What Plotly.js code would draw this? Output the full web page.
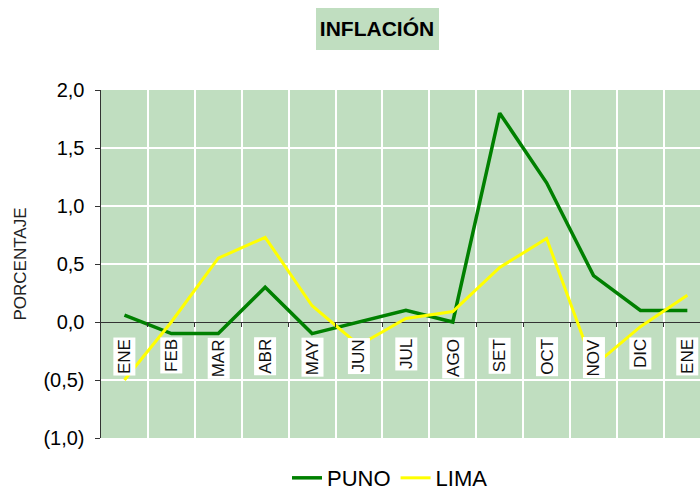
<!DOCTYPE html>
<html><head><meta charset="utf-8">
<script src="https://cdn.plot.ly/plotly-3.0.1.min.js"></script>
<style>body{margin:0;padding:0;background:#fff}#chart{width:700px;height:495px}</style>
</head><body><div id="chart"></div>
<script>
const months = ['ENE','FEB','MAR','ABR','MAY','JUN','JUL','AGO','SET','OCT','NOV','DIC','ENE'];
const puno = [0.06,-0.1,-0.1,0.3,-0.1,0.0,0.1,0.0,1.8,1.2,0.4,0.1,0.1];
const lima = [-0.5,0.0,0.55,0.73,0.14,-0.2,0.03,0.09,0.47,0.72,-0.38,-0.04,0.23];
const yTickVals = [-1,-0.5,0,0.5,1,1.5,2];
const yTickText = ['(1,0)','(0,5)','0,0','0,5','1,0','1,5','2,0'];

const FONT = 'Liberation Sans, Arial, sans-serif';
const idx = months.map((m,i)=>i);
const bounds = months.map((m,i)=>i+0.5);

const traces = [
  {x: idx, y: puno, name: 'PUNO', type:'scatter', mode:'lines', line:{color:'#008000', width:3.5}},
  {x: idx, y: lima, name: 'LIMA', type:'scatter', mode:'lines', line:{color:'#ffff00', width:3}}
];

const annotations = months.map((m,i)=>({
  x: i, y: -0.13, xref:'x', yref:'y', text: m, showarrow:false,
  textangle:-90, xanchor:'center', yanchor:'top',
  bgcolor:'#ffffff', borderpad:1,
  font:{family:FONT, size:17, color:'#111'}
}));

const layout = {
  width:700, height:495,
  margin:{l:101, r:0, t:90, b:57, autoexpand:false},
  paper_bgcolor:'#ffffff', plot_bgcolor:'#c0dec0',
  font:{family:FONT},
  title:{text:'<b>INFLACIÓN</b>', x:377/700, xanchor:'center', y:1-29/495, yanchor:'middle',
         font:{family:FONT, size:21, color:'#000'}},
  shapes:[{type:'rect', xref:'paper', yref:'paper', x0:(316-101)/599, x1:(439-101)/599,
           y0:(438-50)/348, y1:(438-8)/348, fillcolor:'#c0dec0', line:{width:0}, layer:'below'}],
  xaxis:{range:[-0.5, 12.27], tickvals:bounds, showticklabels:false, showgrid:true,
         gridcolor:'#ffffff', gridwidth:2, zeroline:false, showline:false,
         anchor:'free', position:1/3, ticks:'outside', ticklen:4, tickcolor:'#333', tickwidth:1},
  yaxis:{range:[-1,2], tickvals:yTickVals, ticktext:yTickText, showgrid:true, gridcolor:'#ffffff', gridwidth:2,
         zeroline:true, zerolinecolor:'#333', zerolinewidth:1,
         showline:true, linecolor:'#333', linewidth:1.5, ticks:'outside', ticklen:5, tickcolor:'#333',
         ticklabelstandoff:6,
         tickfont:{family:FONT, size:20, color:'#000'},
         title:{text:'PORCENTAJE', standoff:12, font:{family:FONT, size:17, color:'#222'}}},
  showlegend:true,
  legend:{orientation:'h', x:0.4825, xanchor:'center', y:-0.115, yanchor:'middle',
          font:{family:FONT, size:22, color:'#000'}, bgcolor:'rgba(0,0,0,0)'},
  annotations: annotations
};
Plotly.newPlot('chart', traces, layout, {displayModeBar:false, staticPlot:true});
</script></body></html>
